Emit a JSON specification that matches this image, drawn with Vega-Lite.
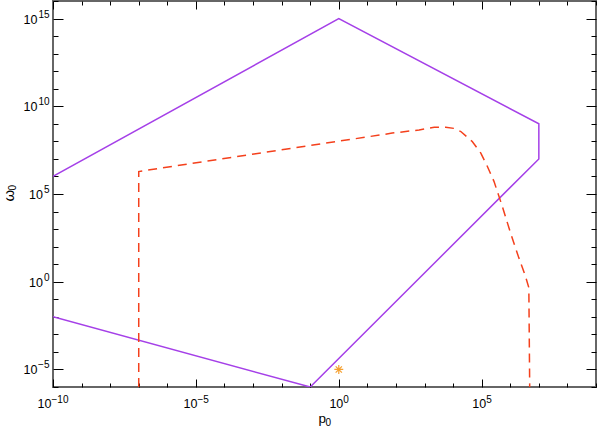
{
  "$schema": "https://vega.github.io/schema/vega-lite/v6.json",
  "width": 543,
  "height": 386,
  "autosize": {"type": "none"},
  "padding": {"left": 53, "top": 1, "right": 2, "bottom": 41},
  "background": "white",
  "config": {
    "view": {"stroke": "#666666", "strokeWidth": 2},
    "axis": {
      "domain": false,
      "grid": false,
      "labelFont": "Liberation Sans",
      "labelFontSize": 12.5,
      "labelColor": "#000000",
      "titleFont": "Liberation Sans",
      "titleFontSize": 13.5,
      "titleFontWeight": "normal",
      "titleColor": "#000000",
      "tickColor": "#000000",
      "tickWidth": 1,
      "labelFlush": false,
      "labelOverlap": false
    }
  },
  "datasets": {
    "bound": [
      {"p": 1e-10, "w": 1e-2, "i": 0},
      {"p": 0.1, "w": 1e-6, "i": 1},
      {"p": 1e7, "w": 1e7, "i": 2},
      {"p": 1e7, "w": 1e9, "i": 3},
      {"p": 1, "w": 1e15, "i": 4},
      {"p": 1e-10, "w": 1e6, "i": 5}
    ],
    "dash": [
      {"p": 1e-7, "w": 1e-6, "i": 0},
      {"p": 1e-7, "w": 1.905e6, "i": 1},
      {"p": 3.548e-6, "w": 4.677e6, "i": 2},
      {"p": 74.13, "w": 2.951e8, "i": 3},
      {"p": 645.7, "w": 4.467e8, "i": 4},
      {"p": 2188, "w": 6.31e8, "i": 5},
      {"p": 5495, "w": 6.457e8, "i": 6},
      {"p": 10715, "w": 5.495e8, "i": 7},
      {"p": 18621, "w": 3.631e8, "i": 8},
      {"p": 46774, "w": 9.772e7, "i": 9},
      {"p": 93325, "w": 2.138e7, "i": 10},
      {"p": 158489, "w": 3.715e6, "i": 11},
      {"p": 269153, "w": 524807, "i": 12},
      {"p": 524807, "w": 19953, "i": 13},
      {"p": 1.023e6, "w": 602.6, "i": 14},
      {"p": 1.995e6, "w": 22.91, "i": 15},
      {"p": 3.388e6, "w": 2.089, "i": 16},
      {"p": 4.467e6, "w": 0.4571, "i": 17},
      {"p": 4.786e6, "w": 1e-6, "i": 18}
    ],
    "star": [
      {"p": 1, "w": 1e-5}
    ]
  },
  "layer": [
    {
      "data": {"name": "bound"},
      "mark": {"type": "line", "color": "#a540e8", "strokeWidth": 1.5, "clip": true},
      "encoding": {
        "x": {
          "field": "p", "type": "quantitative",
          "scale": {"type": "log", "domain": [1e-10, 1e9], "nice": false},
          "axis": {
            "orient": "bottom",
            "title": "p",
            "titleAlign": "left",
            "titleX": 265,
            "titleY": 35.5,
            "titleBaseline": "alphabetic",
            "values": [1e-10, 1e-9, 1e-8, 1e-7, 1e-6, 1e-5, 1e-4, 1e-3, 1e-2, 1e-1, 1, 10, 100, 1000, 1e4, 1e5, 1e6, 1e7, 1e8, 1e9],
            "tickSize": {"condition": {"test": "abs(round(log(datum.value)/LN10)) % 5 == 0", "value": -8}, "value": -4},
            "labelPadding": 28,
            "labelBaseline": "alphabetic",
            "labelAlign": "right",
            "labelOffset": {"condition": [{"test": "round(log(datum.value)/LN10)==-10", "value": -2}, {"test": "round(log(datum.value)/LN10)==-5", "value": 1}], "value": 4},
            "labelExpr": "abs(round(log(datum.value)/LN10)) % 5 == 0 && round(log(datum.value)/LN10) < 9 ? '10' : ''"
          }
        },
        "y": {
          "field": "w", "type": "quantitative",
          "scale": {"type": "log", "domain": [1e-6, 1e16], "nice": false},
          "axis": {
            "orient": "left",
            "title": "ω",
            "titleFontSize": 15,
            "titleAngle": -90,
            "titleX": -40,
            "titleY": 200,
            "titleAlign": "left",
            "titleBaseline": "alphabetic",
            "values": [1e-6, 1e-5, 1e-4, 1e-3, 1e-2, 1e-1, 1, 10, 100, 1000, 1e4, 1e5, 1e6, 1e7, 1e8, 1e9, 1e10, 1e11, 1e12, 1e13, 1e14, 1e15, 1e16],
            "tickSize": {"condition": {"test": "abs(round(log(datum.value)/LN10)) % 5 == 0", "value": -10}, "value": -5},
            "labelBaseline": "alphabetic",
            "labelAlign": "right",
            "labelOffset": 4.5,
            "labelPadding": {"condition": {"test": "abs(round(log(datum.value)/LN10)) >= 10 || round(log(datum.value)/LN10) == -5", "value": 26}, "value": 20.5},
            "labelExpr": "abs(round(log(datum.value)/LN10)) % 5 == 0 && round(log(datum.value)/LN10) > -6 && round(log(datum.value)/LN10) < 16 ? '10' : ''"
          }
        },
        "order": {"field": "i", "type": "quantitative"}
      }
    },
    {
      "data": {"name": "dash"},
      "mark": {"type": "line", "color": "#f4401c", "strokeWidth": 1.5, "strokeDash": [9, 6], "clip": true},
      "encoding": {
        "x": {
          "field": "p", "type": "quantitative",
          "scale": {"type": "log", "domain": [1e-10, 1e9], "nice": false},
          "axis": {
            "orient": "top",
            "title": null,
            "labels": false,
            "values": [1e-10, 1e-9, 1e-8, 1e-7, 1e-6, 1e-5, 1e-4, 1e-3, 1e-2, 1e-1, 1, 10, 100, 1000, 1e4, 1e5, 1e6, 1e7, 1e8, 1e9],
            "tickSize": {"condition": {"test": "abs(round(log(datum.value)/LN10)) % 5 == 0", "value": -8}, "value": -4}
          }
        },
        "y": {
          "field": "w", "type": "quantitative",
          "scale": {"type": "log", "domain": [1e-6, 1e16], "nice": false},
          "axis": {
            "orient": "right",
            "title": null,
            "labels": false,
            "values": [1e-6, 1e-5, 1e-4, 1e-3, 1e-2, 1e-1, 1, 10, 100, 1000, 1e4, 1e5, 1e6, 1e7, 1e8, 1e9, 1e10, 1e11, 1e12, 1e13, 1e14, 1e15, 1e16],
            "tickSize": {"condition": {"test": "abs(round(log(datum.value)/LN10)) % 5 == 0", "value": -10}, "value": -5}
          }
        },
        "order": {"field": "i", "type": "quantitative"}
      }
    },
    {
      "data": {"name": "star"},
      "mark": {"type": "point", "shape": "M-1,0L1,0M0,-1L0,1M-0.7,-0.7L0.7,0.7M-0.7,0.7L0.7,-0.7", "filled": false, "color": "#f5a030", "strokeWidth": 1.2, "size": 80, "opacity": 1, "clip": true},
      "encoding": {
        "x": {
          "field": "p", "type": "quantitative",
          "scale": {"type": "log", "domain": [1e-10, 1e9], "nice": false},
          "axis": {
            "orient": "bottom",
            "title": "0",
            "titleFontSize": 10,
            "titleAlign": "left",
            "titleX": 272,
            "titleY": 38.5,
            "titleBaseline": "alphabetic",
            "ticks": false,
            "values": [1e-10, 1e-5, 1, 1e5],
            "labelFontSize": 10,
            "labelPadding": 15.5,
            "labelBaseline": "alphabetic",
            "labelAlign": "left",
            "labelOffset": {"condition": [{"test": "round(log(datum.value)/LN10)==-10", "value": -2}, {"test": "round(log(datum.value)/LN10)==-5", "value": 1}], "value": 4},
            "labelExpr": "round(log(datum.value)/LN10)==-10?'−10':round(log(datum.value)/LN10)==-5?'−5':round(log(datum.value)/LN10)==0?'0':round(log(datum.value)/LN10)==5?'5':''"
          }
        },
        "y": {
          "field": "w", "type": "quantitative",
          "scale": {"type": "log", "domain": [1e-6, 1e16], "nice": false},
          "axis": {
            "orient": "left",
            "title": "0",
            "titleFontSize": 10,
            "titleAngle": -90,
            "titleX": -38,
            "titleY": 189,
            "titleAlign": "left",
            "titleBaseline": "alphabetic",
            "ticks": false,
            "values": [1e-5, 1, 1e5, 1e10, 1e15],
            "labelFontSize": 10,
            "labelPadding": 4,
            "labelBaseline": "alphabetic",
            "labelAlign": "right",
            "labelOffset": -1.5,
            "labelExpr": "round(log(datum.value)/LN10)==-5?'−5':round(log(datum.value)/LN10)==0?'0':round(log(datum.value)/LN10)==5?'5':round(log(datum.value)/LN10)==10?'10':round(log(datum.value)/LN10)==15?'15':''"
          }
        }
      }
    }
  ],
  "resolve": {"axis": {"x": "independent", "y": "independent"}}
}
